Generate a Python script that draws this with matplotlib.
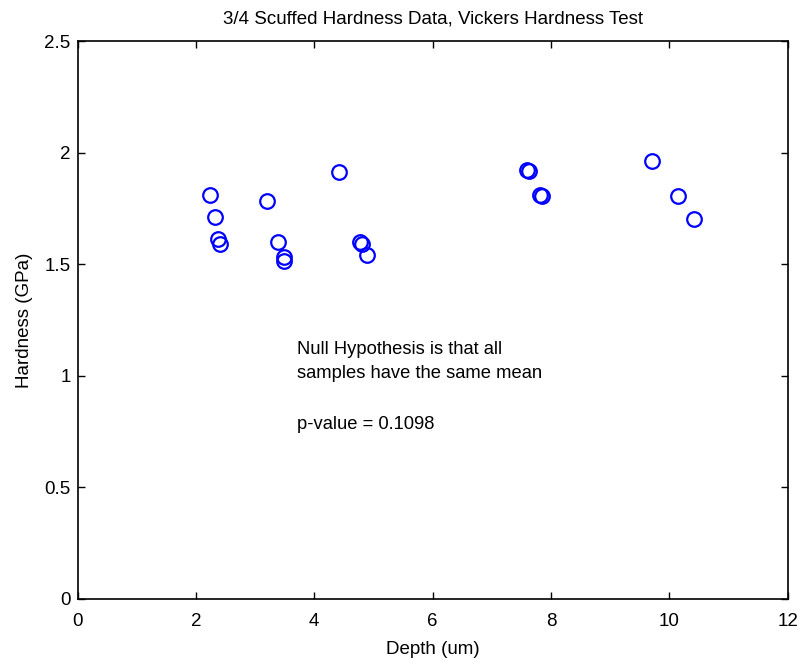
import numpy as np
import matplotlib
matplotlib.use('Agg')
import matplotlib.pyplot as plt

plt.rcParams['font.family'] = ['Liberation Sans', 'DejaVu Sans']

depth = [2.24, 2.32, 2.37, 2.40, 3.20, 3.39, 3.49, 3.49,
         4.41, 4.77, 4.80, 4.89, 7.60, 7.62, 7.82, 7.84,
         9.71, 10.15, 10.42]
hardness = [1.810, 1.711, 1.614, 1.589, 1.785, 1.601, 1.534, 1.516,
            1.915, 1.601, 1.590, 1.541, 1.922, 1.918, 1.812, 1.806,
            1.962, 1.807, 1.702]

x_ticks = [0, 2, 4, 6, 8, 10, 12]
y_ticks = [0, 0.5, 1, 1.5, 2, 2.5]
y_labels = ['0', '0.5', '1', '1.5', '2', '2.5']

fs = 13.5

fig = plt.figure(figsize=(8.03, 6.64), dpi=100)
ax = fig.add_axes([0.0966, 0.0979, 0.8844, 0.8401])

ax.plot(depth, hardness, 'o', markerfacecolor='none', markeredgecolor='#0000ff',
        markersize=10.5, markeredgewidth=1.6)

ax.set_xlim(0, 12)
ax.set_ylim(0, 2.5)
ax.set_xticks(x_ticks)
ax.set_yticks(y_ticks)
ax.set_yticklabels(y_labels)
ax.tick_params(direction='in', top=True, right=True, labelsize=fs, length=5, width=1, pad=5)
ax.tick_params(axis='x', pad=10)
for s in ax.spines.values():
    s.set_linewidth(1.2)

ax.set_title('3/4 Scuffed Hardness Data, Vickers Hardness Test', fontsize=fs, pad=13)
ax.set_xlabel('Depth (um)', fontsize=fs, labelpad=8)
ax.set_ylabel('Hardness (GPa)', fontsize=fs, labelpad=8)

ax.text(3.71, 1.12, 'Null Hypothesis is that all', fontsize=13.2, va='center', ha='left')
ax.text(3.71, 1.01, 'samples have the same mean', fontsize=13.2, va='center', ha='left')
ax.text(3.71, 0.78, 'p-value = 0.1098', fontsize=13.2, va='center', ha='left')

fig.savefig('out.png', dpi=100)
